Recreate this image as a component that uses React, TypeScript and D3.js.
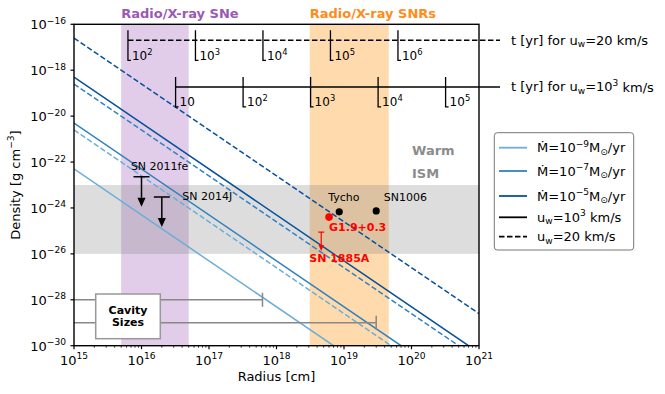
import React from 'react';
import * as d3 from 'd3';

const W = 665;
const H = 394;
const FONT = 'DejaVu Sans, sans-serif';

// axes
const radiusDomain = [1e15, 1e21];
const densityDomain = [1e-30, 1e-16];
const xTickExps = [15, 16, 17, 18, 19, 20, 21];
const yTickExps = [-30, -28, -26, -24, -22, -20, -18, -16];

// wind density profiles, [radius cm, density g/cm3] end points
const mdotExps = ['−9', '−7', '−5'];
const mdotColors = ['#6baed6', '#3182bd', '#08519c'];
const fastWind = [
  [[1e15, 5e-23], [7e18, 1e-30]],
  [[1e15, 5e-21], [7e19, 1e-30]],
  [[1e15, 5e-19], [7e20, 1e-30]],
];
const slowWind = [
  [[1e15, 2.5e-21], [5e19, 1e-30]],
  [[1e15, 2.5e-19], [5e20, 1e-30]],
  [[1e15, 2.5e-17], [1e21, 2.5e-29]],
];

// shaded regions
const sneBand = [5e15, 5e16];
const snrBand = [3.1e18, 4.6e19];
const ismBand = [1e-26, 1e-23];

// time axes: age of the wind at a given radius
const slowTickExps = ['2', '3', '4', '5', '6'];
const slowTickRadii = [6.3e15, 6.3e16, 6.3e17, 6.3e18, 6.3e19];
const fastTickExps = ['', '2', '3', '4', '5'];
const fastTickRadii = [3.2e16, 3.2e17, 3.2e18, 3.2e19, 3.2e20];
const slowAxisDensity = 10 ** -16.7;
const fastAxisDensity = 10 ** -18.73;

// observed remnants
const remnantNames = ['Tycho', 'SN1006'];
const remnantRadius = [8.5e18, 3e19];
const remnantDensity = [6.8e-25, 7.4e-25];
const g19Radius = 6e18;
const g19Density = 4e-25;

// upper limits
const limitNames = ['SN 2011fe', 'SN 2014J'];
const limitRadius = [1e16, 2e16];
const limitDensity = [2.3e-23, 3e-24];
const sn1885Radius = 4.6e18;
const sn1885Density = 8.9e-26;

// cavity sizes
const cavityRadius = [6.2e17, 3e19];
const cavityDensity = [1e-28, 1e-29];

const x = d3.scaleLog().domain(radiusDomain).range([74, 479]);
const y = d3.scaleLog().domain(densityDomain).range([345.7, 24.3]);
const line = d3.line<number[]>().x(d => x(d[0])).y(d => y(d[1]));

const sup = (s: string, size: number) => (
  <tspan fontSize={size * 0.7} dy={-size * 0.42}>{s}</tspan>
);

const App = () => {
  const [x0, x1] = x.range();
  const [y0, y1] = y.range();
  const minorTicks: number[] = [];
  for (let e = 15; e < 21; e++) for (let k = 2; k < 10; k++) minorTicks.push(k * 10 ** e);

  const timeAxis = (dens: number, radii: number[], exps: string[], dashed: boolean, label: any) => {
    const ty = y(dens);
    return (
      <g>
        <line x1={x(radii[0])} x2={500} y1={ty} y2={ty} stroke="black" strokeWidth={1.5}
          strokeDasharray={dashed ? '5.5,2.5' : undefined} />
        {radii.map((r, i) => (
          <g key={i}>
            <path d={`M${x(r)},${ty - 10}V${ty + 20}h3`} fill="none" stroke="black" strokeWidth={1.3} />
            <text x={x(r) + 4} y={ty + 19.5} fontSize={12} fontFamily={FONT}>
              10{exps[i] ? sup(exps[i], 12) : null}
            </text>
          </g>
        ))}
        <text x={511} y={ty + 4.5} fontSize={13} fontFamily={FONT}>{label}</text>
      </g>
    );
  };

  const arrow = (r: number, d: number, len: number, cap: number, head: number, color: string, sw: number) => {
    const ax = x(r);
    const ay = y(d);
    return (
      <g>
        <path d={`M${ax - cap},${ay}H${ax + cap}M${ax},${ay}V${ay + len - head}`} stroke={color} strokeWidth={sw} fill="none" />
        <path d={`M${ax - head * 0.45},${ay + len - head}L${ax + head * 0.45},${ay + len - head}L${ax},${ay + len}Z`} fill={color} />
      </g>
    );
  };

  const legendY = [147.7, 171, 196, 217.3, 236.7];

  return (
    <svg width={W} height={H} style={{ position: 'absolute', left: 0, top: 0 }} fontFamily={FONT}>
      <defs>
        <clipPath id="plot">
          <rect x={x0} y={y1} width={x1 - x0} height={y0 - y1} />
        </clipPath>
      </defs>

      {/* shaded regions */}
      <rect x={x(sneBand[0])} width={x(sneBand[1]) - x(sneBand[0])} y={y1} height={y0 - y1} fill="#9b59b6" opacity={0.3} />
      <rect x={x(snrBand[0])} width={x(snrBand[1]) - x(snrBand[0])} y={y1} height={y0 - y1} fill="darkorange" opacity={0.32} />
      <rect x={x0} width={x1 - x0} y={y(ismBand[1])} height={y(ismBand[0]) - y(ismBand[1])} fill="#808080" opacity={0.27} />

      <text x={x(sneBand[0])} y={18} fontSize={13} fontWeight="bold" fill="#9b59b6">Radio/X-ray SNe</text>
      <text x={x(snrBand[0])} y={18} fontSize={13} fontWeight="bold" fill="#ff8c1a">Radio/X-ray SNRs</text>
      <text x={412} y={155} fontSize={13} fontWeight="bold" fill="#8c8c8c">Warm</text>
      <text x={412} y={178.3} fontSize={13} fontWeight="bold" fill="#8c8c8c">ISM</text>

      {/* wind profiles */}
      <g clipPath="url(#plot)">
        {fastWind.map((d, i) => (
          <path key={'f' + i} d={line(d) || ''} stroke={mdotColors[i]} strokeWidth={1.5} fill="none" />
        ))}
        {slowWind.map((d, i) => (
          <path key={'s' + i} d={line(d) || ''} stroke={mdotColors[i]} strokeWidth={1.5} fill="none" strokeDasharray="5.5,2.5" />
        ))}
      </g>

      {/* time axes */}
      {timeAxis(slowAxisDensity, slowTickRadii, slowTickExps, true,
        <>t [yr] for u<tspan fontSize={9} dy={2.5}>w</tspan><tspan dy={-2.5}>=20 km/s</tspan></>)}
      {timeAxis(fastAxisDensity, fastTickRadii, fastTickExps, false,
        <>t [yr] for u<tspan fontSize={9} dy={2.5}>w</tspan><tspan dy={-2.5}>=10</tspan>{sup('3', 13)}<tspan dy={5.5}> km/s</tspan></>)}

      {/* cavity sizes */}
      {cavityRadius.map((r, i) => (
        <path key={i} d={`M${x0},${y(cavityDensity[i])}H${x(r)}M${x(r)},${y(cavityDensity[i]) - 7}V${y(cavityDensity[i]) + 7}`}
          stroke="#888" strokeWidth={1.5} fill="none" />
      ))}
      <rect x={95.7} y={294} width={64.6} height={44.7} fill="white" stroke="#999" strokeWidth={1.5} />
      <text x={128} y={313.5} fontSize={11} fontWeight="bold" textAnchor="middle">Cavity</text>
      <text x={128} y={326} fontSize={11} fontWeight="bold" textAnchor="middle">Sizes</text>

      {/* upper limits */}
      {limitRadius.map((r, i) => (
        <g key={i}>
          {arrow(r, limitDensity[i], 30, 8, 9, 'black', 1.5)}
        </g>
      ))}
      <text x={x(limitRadius[0]) - 10.6} y={y(limitDensity[0]) - 6.7} fontSize={11}>{limitNames[0]}</text>
      <text x={x(limitRadius[1]) + 20.4} y={y(limitDensity[1]) + 2.7} fontSize={11}>{limitNames[1]}</text>
      {arrow(sn1885Radius, sn1885Density, 19, 3, 6, 'red', 1.2)}
      <text x={x(sn1885Radius) - 12} y={y(sn1885Density) + 30} fontSize={11} fontWeight="bold" fill="red">SN 1885A</text>

      {/* remnants */}
      {remnantRadius.map((r, i) => (
        <circle key={i} cx={x(r)} cy={y(remnantDensity[i])} r={3.6} fill="black" />
      ))}
      <text x={x(remnantRadius[0]) - 11} y={y(remnantDensity[0]) - 11.3} fontSize={11}>{remnantNames[0]}</text>
      <text x={x(remnantRadius[1]) + 7.6} y={y(remnantDensity[1]) - 10.3} fontSize={11}>{remnantNames[1]}</text>
      <circle cx={x(g19Radius)} cy={y(g19Density)} r={3.8} fill="red" />
      <text x={x(g19Radius)} y={y(g19Density) + 14} fontSize={11} fontWeight="bold" fill="red">G1.9+0.3</text>

      {/* frame and axes */}
      <rect x={x0} y={y1} width={x1 - x0} height={y0 - y1} fill="none" stroke="black" strokeWidth={1.4} />
      {minorTicks.map((t, i) => (
        <line key={i} x1={x(t)} x2={x(t)} y1={y0} y2={y0 + 2} stroke="black" strokeWidth={0.8} />
      ))}
      {xTickExps.map(e => (
        <g key={e}>
          <line x1={x(10 ** e)} x2={x(10 ** e)} y1={y0} y2={y0 + 3.5} stroke="black" strokeWidth={1.2} />
          <text x={x(10 ** e)} y={y0 + 19} fontSize={13} textAnchor="middle">10{sup(String(e), 13)}</text>
        </g>
      ))}
      {yTickExps.map(e => (
        <g key={e}>
          <line x1={x0 - 3.5} x2={x0} y1={y(10 ** e)} y2={y(10 ** e)} stroke="black" strokeWidth={1.2} />
          <text x={66} y={y(10 ** e) + 5} fontSize={13} textAnchor="end">10{sup('−' + String(-e), 13)}</text>
        </g>
      ))}
      <text x={(x0 + x1) / 2} y={381} fontSize={13} textAnchor="middle">Radius [cm]</text>
      <text transform={`translate(19.5,${(y0 + y1) / 2}) rotate(-90)`} fontSize={13} textAnchor="middle">
        Density [g cm{sup('−3', 13)}<tspan dy={5.5}>]</tspan>
      </text>

      {/* legend */}
      <rect x={494.3} y={132.7} width={139.4} height={117.3} rx={3} fill="white" stroke="#777" strokeWidth={1} />
      {mdotExps.map((m, i) => (
        <g key={i}>
          <line x1={499} x2={527} y1={legendY[i]} y2={legendY[i]} stroke={mdotColors[i]} strokeWidth={1.8} />
          <text x={537} y={legendY[i] + 4.5} fontSize={13}>
            Ṁ=10{sup(m, 13)}<tspan dy={5.5}>M</tspan><tspan fontSize={9} dy={2.5}>⊙</tspan><tspan dy={-2.5}>/yr</tspan>
          </text>
        </g>
      ))}
      <line x1={499} x2={527} y1={legendY[3]} y2={legendY[3]} stroke="black" strokeWidth={1.8} />
      <text x={537} y={legendY[3] + 4.5} fontSize={13}>
        u<tspan fontSize={9} dy={2.5}>w</tspan><tspan dy={-2.5}>=10</tspan>{sup('3', 13)}<tspan dy={5.5}> km/s</tspan>
      </text>
      <line x1={499} x2={527} y1={legendY[4]} y2={legendY[4]} stroke="black" strokeWidth={1.8} strokeDasharray="5.5,2.5" />
      <text x={537} y={legendY[4] + 4.5} fontSize={13}>
        u<tspan fontSize={9} dy={2.5}>w</tspan><tspan dy={-2.5}>=20 km/s</tspan>
      </text>
    </svg>
  );
};

export default App;
